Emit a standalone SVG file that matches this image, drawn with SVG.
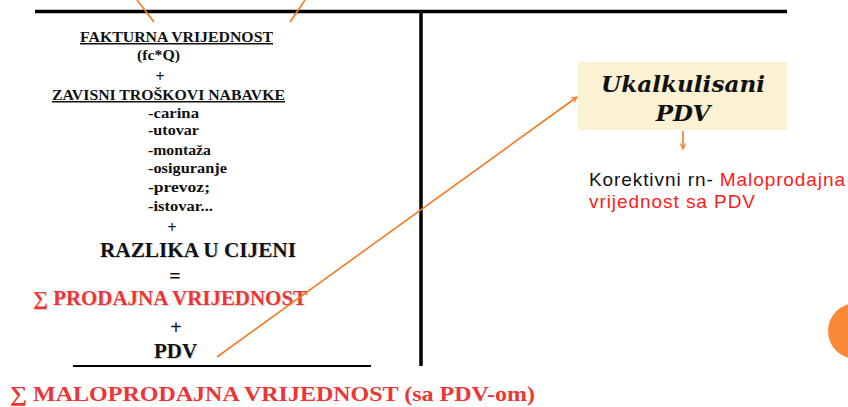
<svg xmlns="http://www.w3.org/2000/svg" width="848" height="407" viewBox="0 0 848 407">
<defs>
<style>
.sb{font-family:"Liberation Serif","Times New Roman",serif;font-weight:bold;fill:#111}
.red{fill:#EE3535}
.sh{fill:#d4d4d4}
.ss{font-family:"Liberation Sans",Arial,sans-serif;font-size:19px;fill:#111}
.rs{fill:#FF1A1A}
.or{stroke:#F47A20;stroke-width:1.6;fill:none}
.blk{stroke:#000;fill:none}
</style>
<marker id="ah" viewBox="0 0 10 10" refX="9" refY="5" markerWidth="7" markerHeight="7" orient="auto" markerUnits="userSpaceOnUse">
<path d="M1,1 L9,5 L1,9" fill="none" stroke="#F47A20" stroke-width="1.6"/>
</marker>
</defs>
<rect width="848" height="407" fill="#fff"/>
<g id="frame">
<line class="blk" x1="35" y1="11.5" x2="787" y2="11.5" stroke-width="3.5"/>
<line class="blk" x1="421" y1="10" x2="421" y2="366" stroke-width="3.5"/>
<line class="blk" x1="73" y1="366" x2="371" y2="366" stroke-width="2"/>
</g>
<g id="calc">
<text class="sb" x="80" y="42" font-size="15" textLength="193" lengthAdjust="spacingAndGlyphs" text-decoration="underline">FAKTURNA  VRIJEDNOST</text>
<text class="sb" x="137" y="60" font-size="14" textLength="43" lengthAdjust="spacingAndGlyphs">(fc*Q)</text>
<text class="sb" x="160" y="82" font-size="16" text-anchor="middle">+</text>
<text class="sb" x="52" y="100" font-size="15" textLength="233" lengthAdjust="spacingAndGlyphs" text-decoration="underline">ZAVISNI  TROŠKOVI  NABAVKE</text>
<text class="sb" x="148" y="118" font-size="14.5" textLength="51" lengthAdjust="spacingAndGlyphs">-carina</text>
<text class="sb" x="148" y="135" font-size="14.5" textLength="51" lengthAdjust="spacingAndGlyphs">-utovar</text>
<text class="sb" x="148" y="155" font-size="14.5" textLength="63" lengthAdjust="spacingAndGlyphs">-montaža</text>
<text class="sb" x="148" y="173" font-size="14.5" textLength="79" lengthAdjust="spacingAndGlyphs">-osiguranje</text>
<text class="sb" x="148" y="192" font-size="14.5" textLength="62" lengthAdjust="spacingAndGlyphs">-prevoz;</text>
<text class="sb" x="148" y="211" font-size="14.5" textLength="65" lengthAdjust="spacingAndGlyphs">-istovar...</text>
<text class="sb" x="172" y="233" font-size="16" text-anchor="middle">+</text>
<text class="sb sh" x="101" y="258" font-size="21" textLength="196" lengthAdjust="spacingAndGlyphs">RAZLIKA U CIJENI</text>
<text class="sb" x="100" y="257" font-size="21" textLength="196" lengthAdjust="spacingAndGlyphs">RAZLIKA U CIJENI</text>
<text class="sb" x="175" y="283" font-size="20" text-anchor="middle">=</text>
<text class="sb sh" x="34" y="306" font-size="20" textLength="274" lengthAdjust="spacingAndGlyphs">∑ PRODAJNA VRIJEDNOST</text>
<text class="sb red" x="33" y="305" font-size="20" textLength="274" lengthAdjust="spacingAndGlyphs">∑ PRODAJNA VRIJEDNOST</text>
<text class="sb" x="176" y="334" font-size="20" text-anchor="middle">+</text>
<text class="sb sh" x="155" y="359" font-size="20" textLength="43" lengthAdjust="spacingAndGlyphs">PDV</text>
<text class="sb" x="154" y="358" font-size="20" textLength="43" lengthAdjust="spacingAndGlyphs">PDV</text>
<text class="sb red" x="10" y="401" font-size="21" textLength="525" lengthAdjust="spacingAndGlyphs">∑ MALOPRODAJNA VRIJEDNOST (sa PDV-om)</text>
</g>
<g id="ukalkulisani">
<rect x="578" y="62" width="209" height="68" fill="#FBF2D3"/>
<text x="683" y="92" font-family="'DejaVu Serif','Liberation Serif',serif" font-weight="bold" font-style="italic" font-size="22" text-anchor="middle" fill="#111" textLength="164" lengthAdjust="spacingAndGlyphs">Ukalkulisani</text>
<text x="683" y="121" font-family="'DejaVu Serif','Liberation Serif',serif" font-weight="bold" font-style="italic" font-size="23" text-anchor="middle" fill="#111">PDV</text>
</g>
<g id="korektivni">
<text class="ss" x="589" y="186" textLength="256" lengthAdjust="spacing">Korektivni rn- <tspan class="rs">Maloprodajna</tspan></text>
<text class="ss rs" x="589" y="208" textLength="166" lengthAdjust="spacing">vrijednost sa PDV</text>
</g>
<g id="decor">
<circle cx="856" cy="331" r="28" fill="#FA8A38"/>
</g>
<g id="connectors">
<line class="or" x1="137" y1="0" x2="154" y2="22"/>
<line class="or" x1="305" y1="0" x2="290" y2="22"/>
<line class="or" x1="217" y1="357" x2="577" y2="97" marker-end="url(#ah)"/>
<line class="or" x1="683" y1="131" x2="683" y2="149" marker-end="url(#ah)"/>
</g>
</svg>
